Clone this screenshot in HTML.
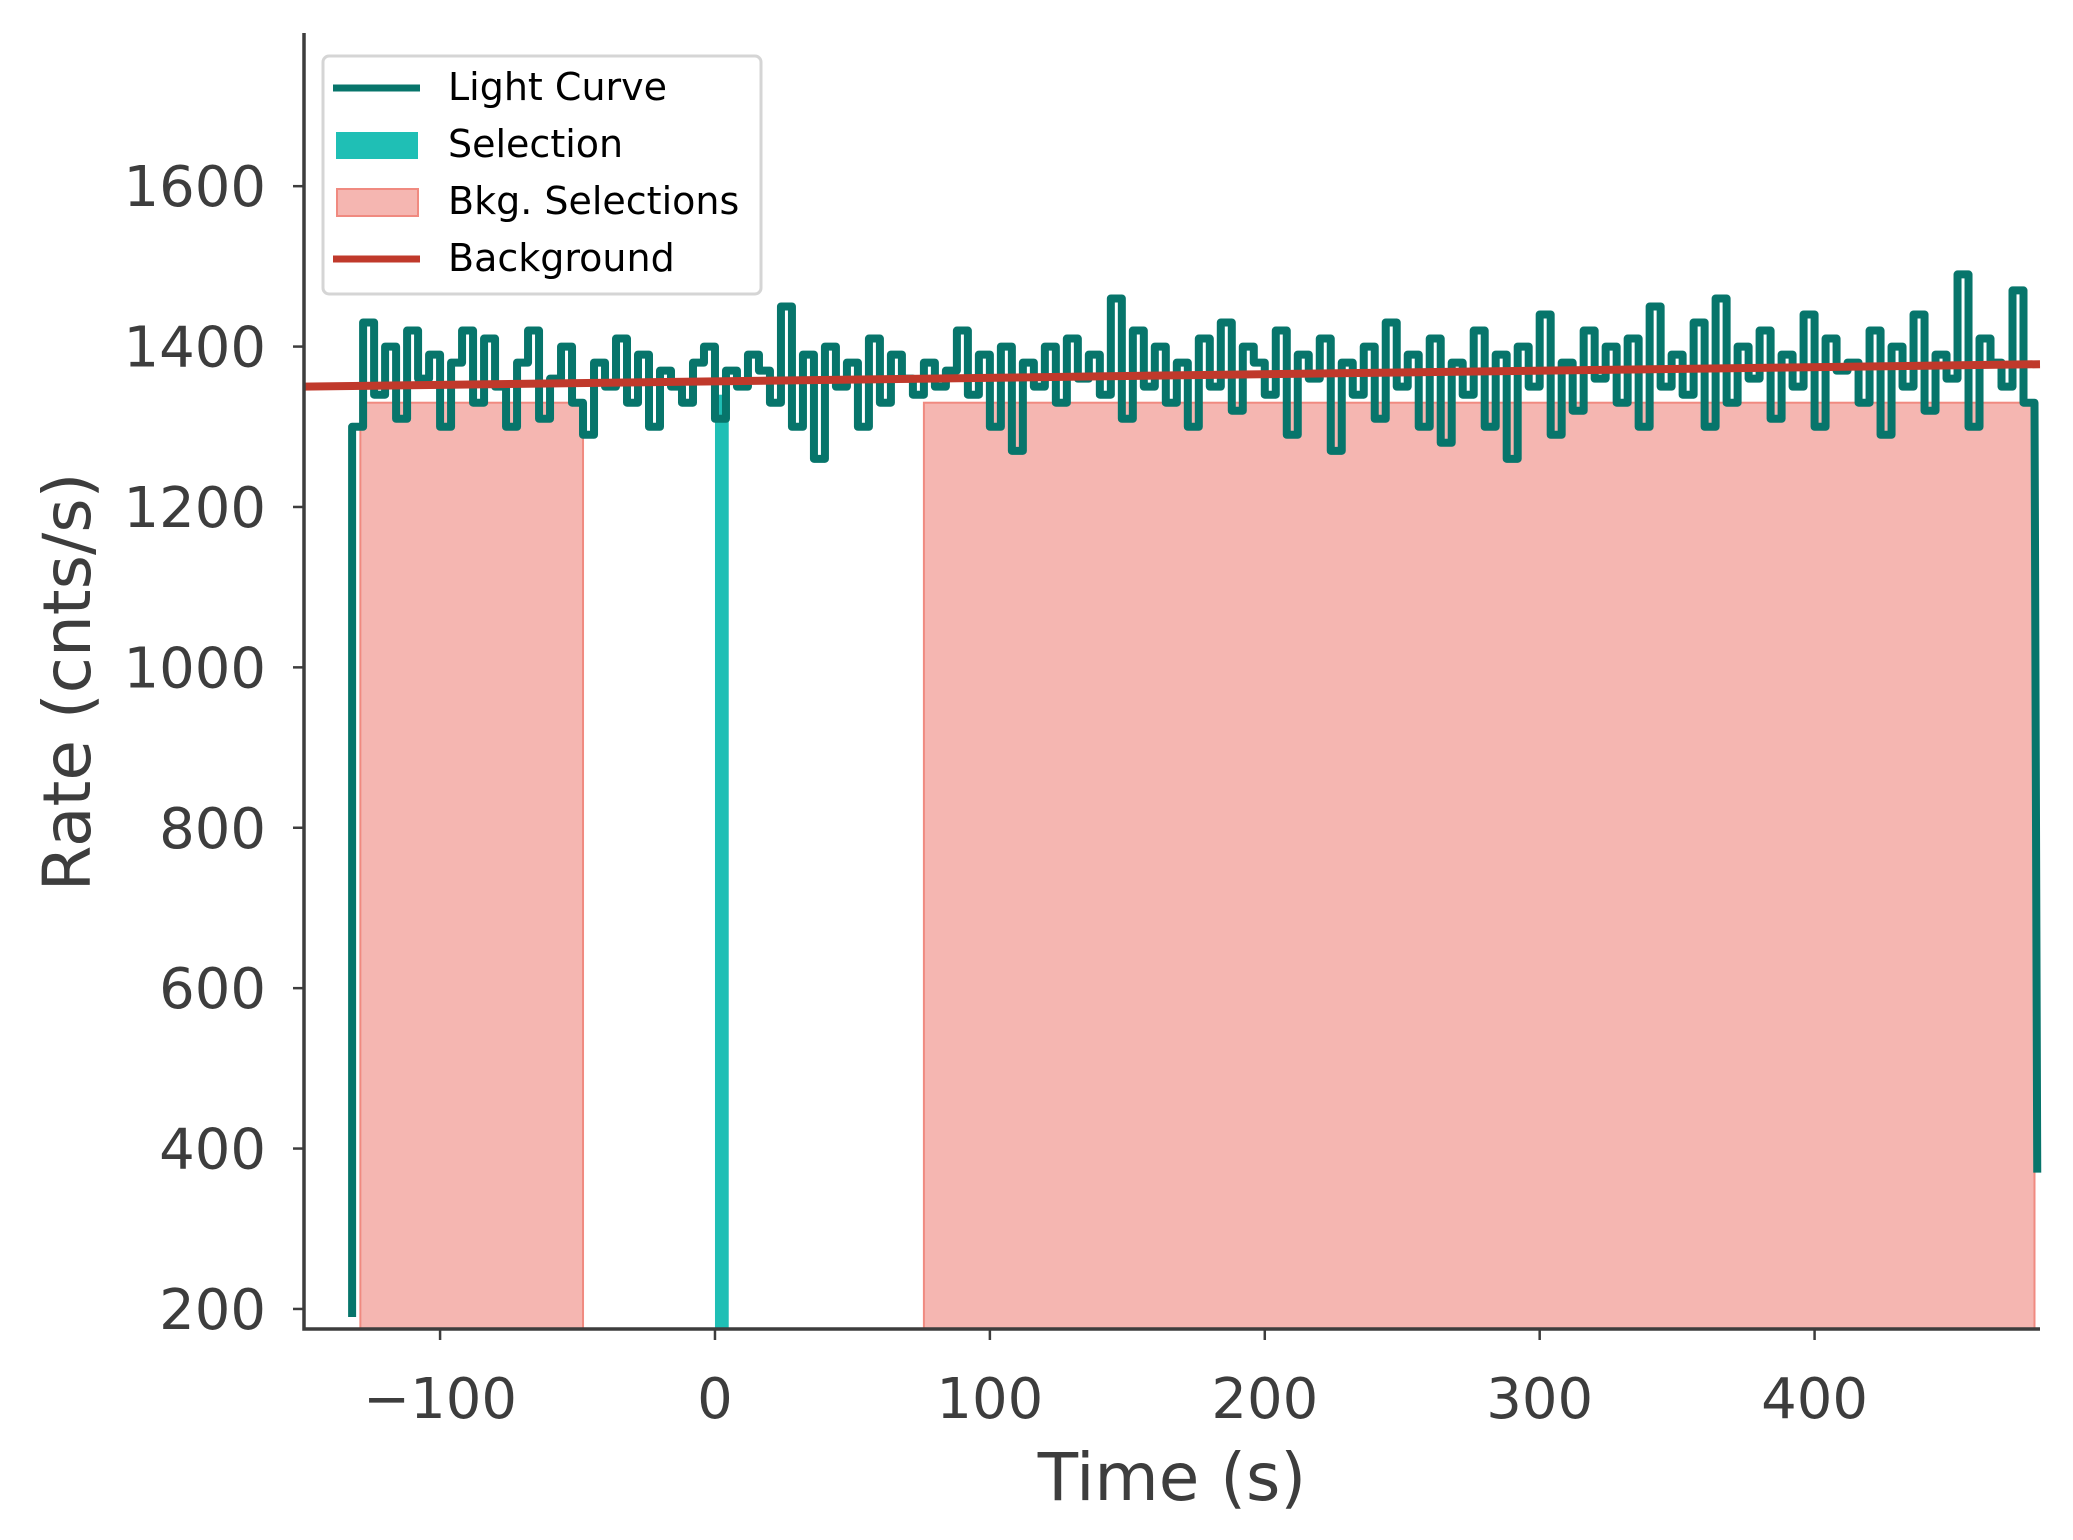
<!DOCTYPE html>
<html><head><meta charset="utf-8"><style>
html,body{margin:0;padding:0;background:#fff;}
svg{display:block;font-family:"DejaVu Sans","Liberation Sans",sans-serif;}
</style></head><body>
<svg id="chart" width="2073" height="1540"></svg>
<script>
const xTicks=[-100,0,100,200,300,400];
const yTicks=[200,400,600,800,1000,1200,1400,1600];
const bkgIntervals=[[-129,-48],[76,480]];
const selInterval=[0,5];
const bkgLine=[[-150,1350],[482,1378]];
const lcStart=-132, lcStep=4;
const lcRates=[1300,1430,1340,1400,1310,1420,1360,1390,1300,1380,1420,1330,1410,1350,1300,1380,1420,1310,1360,1400,1330,1290,1380,1350,1410,1330,1390,1300,1370,1350,1330,1380,1400,1310,1370,1350,1390,1370,1330,1450,1300,1390,1260,1400,1350,1380,1300,1410,1330,1390,1360,1340,1380,1350,1370,1420,1340,1390,1300,1400,1270,1380,1350,1400,1330,1410,1360,1390,1340,1460,1310,1420,1350,1400,1330,1380,1300,1410,1350,1430,1320,1400,1380,1340,1420,1290,1390,1360,1410,1270,1380,1340,1400,1310,1430,1350,1390,1300,1410,1280,1380,1340,1420,1300,1390,1260,1400,1350,1440,1290,1380,1320,1420,1360,1400,1330,1410,1300,1450,1350,1390,1340,1430,1300,1460,1330,1400,1360,1420,1310,1390,1350,1440,1300,1410,1370,1380,1330,1420,1290,1400,1350,1440,1320,1390,1360,1490,1300,1410,1380,1350,1470,1330];
const lcEnd=[481,370];

const L=304,R=2040,T=33,B=1329;
const xmin=-149.5,xmax=482,ymin=175,ymax=1791;
const X=v=>L+(v-xmin)/(xmax-xmin)*(R-L);
const Y=v=>B-(v-ymin)/(ymax-ymin)*(B-T);
const NS="http://www.w3.org/2000/svg";
const svg=document.getElementById('chart');
function mk(tag,attrs,parent){const e=document.createElementNS(NS,tag);for(const k in attrs)e.setAttribute(k,attrs[k]);(parent||svg).appendChild(e);return e;}

bkgIntervals.forEach((iv,i)=>{
  const r=mk('rect',{x:X(iv[0]),y:Y(1330),width:X(iv[1])-X(iv[0]),height:B-Y(1330),fill:'#f5b6b1',stroke:'#f08a80','stroke-width':2});
  
  
});
const sel=mk('rect',{x:X(selInterval[0]),y:Y(1340),width:X(selInterval[1])-X(selInterval[0]),height:B-Y(1340),fill:'#1fbfb5'});



let d='M'+X(lcStart)+','+Y(190)+' L'+X(lcStart)+','+Y(lcRates[0]);
lcRates.forEach((v,i)=>{const t=Math.min(lcStart+i*lcStep,lcEnd[0]);const t2=Math.min(t+lcStep,lcEnd[0]);d+=' L'+X(t)+','+Y(v)+' L'+X(t2)+','+Y(v);});
d+=' L'+X(lcEnd[0])+','+Y(lcEnd[1]);
const lc=mk('path',{d:d,fill:'none',stroke:'#07756b','stroke-width':8,'stroke-linejoin':'round'});



const bl=mk('line',{x1:X(bkgLine[0][0]),y1:Y(bkgLine[0][1]),x2:X(bkgLine[1][0]),y2:Y(bkgLine[1][1]),stroke:'#c0392b','stroke-width':8});



const ax=mk('path',{d:`M${L},${T} L${L},${B} L${R},${B}`,fill:'none',stroke:'#3d3d3d','stroke-width':3.5});


xTicks.forEach(v=>{
  mk('line',{x1:X(v),y1:B,x2:X(v),y2:B+11,stroke:'#3d3d3d','stroke-width':2.5});
  const t=mk('text',{x:X(v),y:1418,'text-anchor':'middle','font-size':56,fill:'#3d3d3d'});
  t.textContent=v<0?'\u2212'+(-v):String(v);
  
  
});
yTicks.forEach(v=>{
  mk('line',{x1:L-11,y1:Y(v),x2:L,y2:Y(v),stroke:'#3d3d3d','stroke-width':2.5});
  const t=mk('text',{x:L-38,y:Y(v)+20,'text-anchor':'end','font-size':56,fill:'#3d3d3d'});
  t.textContent=String(v);
  
  
});
const xt=mk('text',{x:(L+R)/2,y:1500,'text-anchor':'middle','font-size':66,fill:'#3d3d3d'});
xt.textContent='Time (s)';


const yt=mk('text',{x:0,y:0,'text-anchor':'middle','font-size':66,fill:'#3d3d3d',transform:`translate(90,682) rotate(-90)`});
yt.textContent='Rate (cnts/s)';



const lg=mk('g',{});


mk('rect',{x:323,y:56,width:438,height:238,rx:6,fill:'#fff',stroke:'#d5d5d5','stroke-width':3},lg);
const entries=[['Light Curve','line','#07756b'],['Selection','box','#1fbfb5'],['Bkg. Selections','bbox','#f5b6b1'],['Background','line','#c0392b']];
entries.forEach((e,i)=>{
  const y=88+i*57;
  const g=mk('g',{},lg);
  
  
  if(e[1]==='line')mk('line',{x1:333,y1:y,x2:420,y2:y,stroke:e[2],'stroke-width':7},g);
  else if(e[1]==='box')mk('rect',{x:336,y:y-13,width:82,height:27,fill:e[2]},g);
  else mk('rect',{x:337,y:y-13,width:81,height:27,fill:e[2],stroke:'#f08a80','stroke-width':2},g);
  const t=mk('text',{x:448,y:y+12,'font-size':38,fill:'#000'},g);
  t.textContent=e[0];
});
</script>
</body></html>
